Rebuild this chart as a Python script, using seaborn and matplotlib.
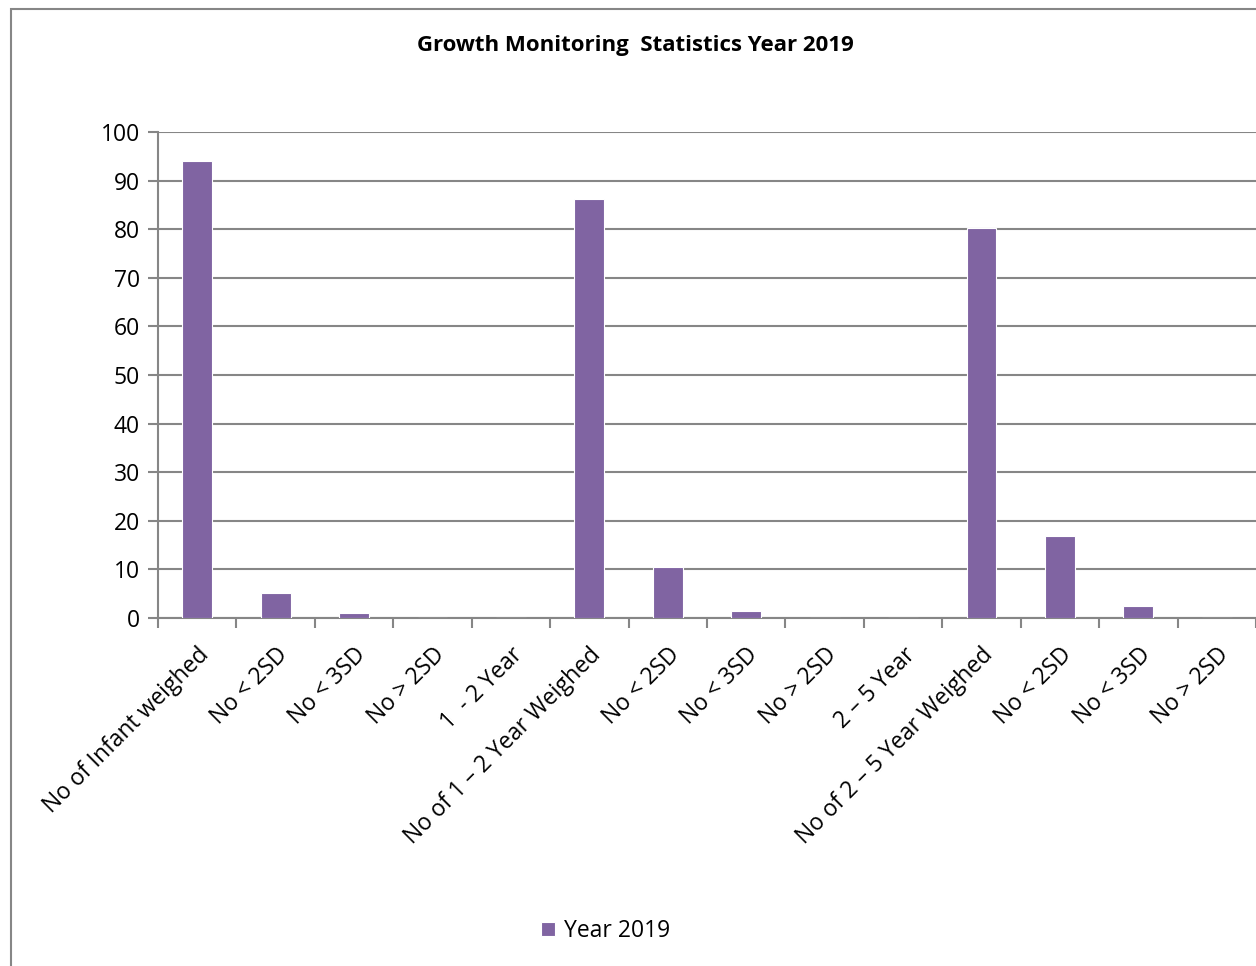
import numpy as np
import pandas as pd
import matplotlib
matplotlib.use('Agg')
import matplotlib.pyplot as plt
import seaborn as sns

# ── DATA ────────────────────────────────────────────────────────────────
categories = ['No of Infant weighed', 'No < 2SD', 'No < 3SD', 'No > 2SD',
              '1  - 2 Year', 'No of 1 \u2013 2 Year Weighed', 'No < 2SD ',
              'No < 3SD ', 'No > 2SD ', '2 \u2013 5 Year',
              'No of 2 \u2013 5 Year Weighed', 'No < 2SD  ', 'No < 3SD  ',
              'No > 2SD  ']
values = [94, 5.1, 1.0, 0, 0, 86.2, 10.4, 1.4, 0, 0, 80.2, 16.9, 2.5, 0]
series_name = 'Year 2019'
title = 'Growth Monitoring  Statistics Year 2019'

df = pd.DataFrame({'cat': categories, 'val': values})

# ── STYLE ───────────────────────────────────────────────────────────────
sns.set_style('white')
plt.rcParams['font.family'] = ['Open Sans', 'DejaVu Sans']
plt.rcParams['text.color'] = 'black'
plt.rcParams['xtick.color'] = 'black'
plt.rcParams['ytick.color'] = 'black'
purple = '#8064A2'
grey = '#868686'

fig = plt.figure(figsize=(12.56, 9.66), dpi=100)
ax = fig.add_axes([158 / 1256, 1 - 618 / 966, 1 - 158 / 1256, (618 - 132) / 966])

sns.barplot(data=df, x='cat', y='val', color=purple, width=0.38,
            saturation=1, ax=ax, edgecolor='white', linewidth=0.8,
            label=series_name, zorder=3)

ax.set_ylim(0, 100)
ax.set_xlim(-0.5, len(categories) - 0.5)
ax.set_yticks(range(0, 101, 10))
ax.yaxis.grid(True, color=grey, linewidth=1.5, zorder=0)
ax.xaxis.grid(False)

for side in ['top', 'right']:
    ax.spines[side].set_visible(False)
for side in ['left', 'bottom']:
    ax.spines[side].set_color(grey)
    ax.spines[side].set_linewidth(1.5)

# x ticks sit between categories, labels at centre
ax.set_xticks(np.arange(-0.5, len(categories), 1.0))
ax.set_xticklabels([])
ax.set_xticks(range(len(categories)), minor=True)
ax.set_xticklabels([c.strip() for c in categories], minor=True,
                   rotation=45, ha='right', rotation_mode='anchor', fontsize=16.5)
ax.tick_params(axis='x', which='major', length=7, width=1.5, color=grey,
               direction='out', bottom=True)
ax.tick_params(axis='x', which='minor', length=0, pad=18, labelcolor='black')
ax.tick_params(axis='y', length=7, width=1.5, color=grey, direction='out',
               left=True, labelsize=16.5, pad=6, labelcolor='black')
ax.set_xlabel('')
ax.set_ylabel('')

fig.text(635 / 1256, 1 - 46 / 966, title, ha='center', va='center',
         fontsize=16, fontweight='bold', color='black')

leg = ax.legend(loc='center', bbox_to_anchor=(606 / 1256, 1 - 931 / 966),
                bbox_transform=fig.transFigure, frameon=False, fontsize=16.5,
                handlelength=0.6, handleheight=0.6, handletextpad=0.4)
for t in leg.get_texts():
    t.set_color('black')

# outer chart frame
fig.patches.append(plt.Rectangle((11 / 1256, -0.01), 1.1, 1 - 9 / 966 + 0.01,
                                 transform=fig.transFigure, fill=False,
                                 edgecolor=grey, linewidth=1.5))

fig.savefig('out.png', dpi=100)
